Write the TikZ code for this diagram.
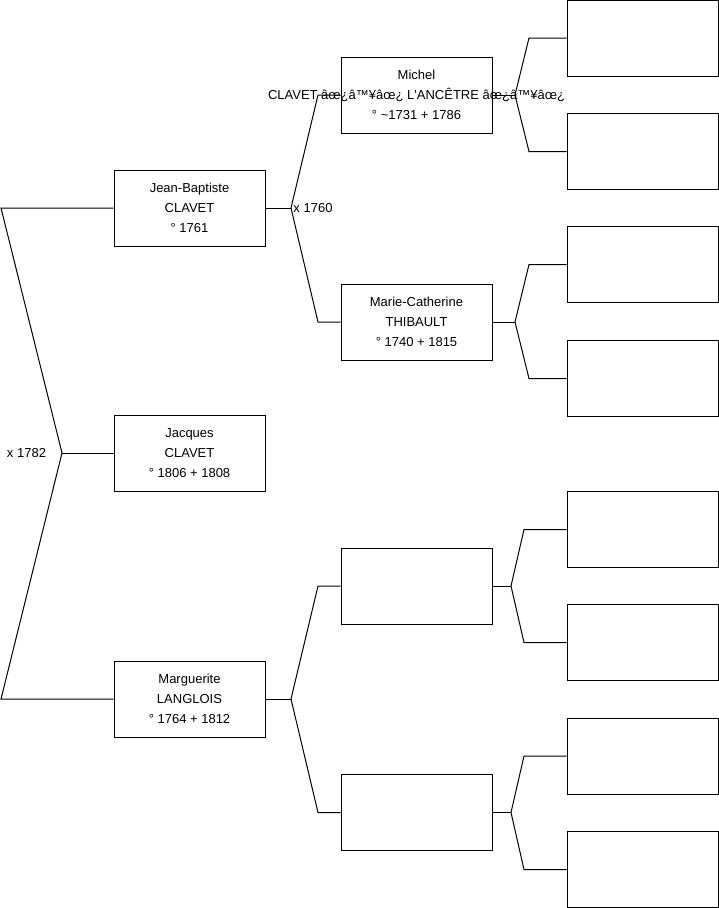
\documentclass[tikz,border=0pt]{standalone}
\usepackage{fontspec}
\setmainfont{Liberation Sans}
\begin{document}
\begin{tikzpicture}[x=1pt,y=-1pt,every node/.style={font=\fontsize{13}{20}\selectfont}]
    \tikzset{
      pers/.style={draw,rectangle,line width=1pt,minimum width=151pt,
        minimum height=76pt,inner sep=0pt,align=center},
      link/.style={line width=1pt}
    }
    \useasboundingbox (0,0) rectangle (719,908);
    % generation 0
    \node[pers] (jb) at (189.5,208) {Jean-Baptiste\\CLAVET\\° 1761};
    \node[pers] (jq) at (189.5,453) {Jacques\\CLAVET\\° 1806 + 1808};
    \node[pers] (mg) at (189.5,699) {Marguerite\\LANGLOIS\\° 1764 + 1812};
    % generation 1
    \node[pers] (mi) at (416.5,95) {};
    \node[align=center] at (416.5,95) {Michel\\CLAVET âœ¿â™¥âœ¿ L\textquotesingle ANCÊTRE âœ¿â™¥âœ¿\\° {\textasciitilde}1731 + 1786};
    \node[pers] (mc) at (416.5,322) {Marie-Catherine\\THIBAULT\\° 1740 + 1815};
    \node[pers] (u1) at (416.5,586) {};
    \node[pers] (u2) at (416.5,812.5) {};
    % generation 2
    \node[pers] (a1) at (642.5,38) {};
    \node[pers] (a2) at (642.5,151.5) {};
    \node[pers] (a3) at (642.5,264.5) {};
    \node[pers] (a4) at (642.5,378.5) {};
    \node[pers] (a5) at (642.5,529.5) {};
    \node[pers] (a6) at (642.5,642.5) {};
    \node[pers] (a7) at (642.5,756) {};
    \node[pers] (a8) at (642.5,869.5) {};

    % couple jb + mg
    \coordinate (m0) at (62,453);
    \coordinate (f0) at (1,208);
    \coordinate (w0) at (1,699);
    \draw[link] (jb.west) -- (f0) -- (m0) -- (w0) -- (mg.west);
    \draw[link] (m0) -- (jq.west);
    \node (x0) at (26.5,453) {x 1782};

    % parents of jb
    \coordinate (m1) at (291,208);
    \draw[link] (jb.east) -- (m1);
    \draw[link] (m1) -- (318,95) -- (mi.west);
    \draw[link] (m1) -- (318,322) -- (mc.west);
    \node (x1) at (313,208) {x 1760};

    % parents of mg
    \coordinate (m2) at (291,699);
    \draw[link] (mg.east) -- (m2);
    \draw[link] (m2) -- (318,586) -- (u1.west);
    \draw[link] (m2) -- (318,812.5) -- (u2.west);

    % generation 2 links
    \coordinate (m3) at (515,95);
    \draw[link] (mi.east) -- (m3);
    \draw[link] (m3) -- (529,38) -- (a1.west);
    \draw[link] (m3) -- (529,151.5) -- (a2.west);
    \coordinate (m4) at (515,322);
    \draw[link] (mc.east) -- (m4);
    \draw[link] (m4) -- (529,264.5) -- (a3.west);
    \draw[link] (m4) -- (529,378.5) -- (a4.west);
    \coordinate (m5) at (511,586);
    \draw[link] (u1.east) -- (m5);
    \draw[link] (m5) -- (524,529.5) -- (a5.west);
    \draw[link] (m5) -- (524,642.5) -- (a6.west);
    \coordinate (m6) at (511,812.5);
    \draw[link] (u2.east) -- (m6);
    \draw[link] (m6) -- (524,756) -- (a7.west);
    \draw[link] (m6) -- (524,869.5) -- (a8.west);
  \end{tikzpicture}
\end{document}
